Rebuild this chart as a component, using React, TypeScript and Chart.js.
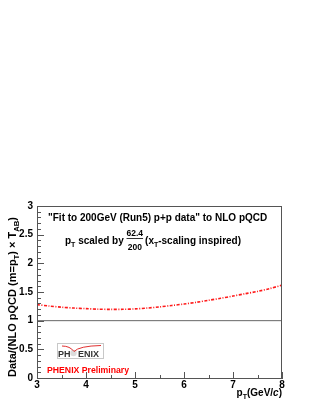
import React, { useEffect, useRef } from "react";
import { Chart, registerables } from "chart.js";

Chart.register(...registerables);

// ---- data ----
const ptValues: number[] = [3.0, 3.25, 3.5, 3.75, 4.0, 4.25, 4.5, 4.75, 5.0, 5.25, 5.5, 5.75, 6.0, 6.25, 6.5, 6.75, 7.0, 7.25, 7.5, 7.75, 8.0];
const ratioValues: number[] = [1.28, 1.255, 1.235, 1.22, 1.21, 1.2, 1.197, 1.198, 1.205, 1.22, 1.24, 1.265, 1.29, 1.32, 1.355, 1.39, 1.43, 1.47, 1.51, 1.56, 1.62];
const refLineX: number[] = [3, 8];
const refLineY: number[] = [1, 1];
const xRange: number[] = [3, 8];
const yRange: number[] = [0, 3];

const FONT = "'Liberation Sans', Arial, Helvetica, sans-serif";

type Seg = { t: string; sub?: boolean; italic?: boolean };

function segFont(size: number, s: Seg) {
  const sz = s.sub ? size * 0.7 : size;
  return `${s.italic ? "italic " : ""}bold ${sz}px ${FONT}`;
}

function richWidth(ctx: CanvasRenderingContext2D, segs: Seg[], size: number) {
  let w = 0;
  for (const s of segs) {
    ctx.font = segFont(size, s);
    w += ctx.measureText(s.t).width;
  }
  return w;
}

function drawRich(ctx: CanvasRenderingContext2D, segs: Seg[], x: number, y: number, size: number, align: "left" | "right" | "center", color: string) {
  const w = richWidth(ctx, segs, size);
  let cx = align === "left" ? x : align === "right" ? x - w : x - w / 2;
  ctx.textAlign = "left";
  ctx.textBaseline = "alphabetic";
  ctx.fillStyle = color;
  for (const s of segs) {
    ctx.font = segFont(size, s);
    ctx.fillText(s.t, cx, s.sub ? y + size * 0.3 : y);
    cx += ctx.measureText(s.t).width;
  }
  return w;
}

const decorPlugin = {
  id: "decor",
  afterDraw(chart: any) {
    const ctx: CanvasRenderingContext2D = chart.ctx;
    const { left, right, top, bottom } = chart.chartArea;
    const xs = chart.scales.x;
    const ys = chart.scales.y;
    ctx.save();
    // frame
    ctx.strokeStyle = "#555";
    ctx.lineWidth = 1;
    ctx.strokeRect(left + 0.5, top + 0.5, right - left - 1, bottom - top);
    // y ticks
    ctx.strokeStyle = "#555";
    for (let i = 0; i <= 30; i++) {
      const v = i / 10;
      const p = Math.round(ys.getPixelForValue(v)) + 0.5;
      const len = i % 5 === 0 ? 7 : 4;
      ctx.beginPath();
      ctx.moveTo(left, p);
      ctx.lineTo(left + len, p);
      ctx.stroke();
    }
    // x ticks
    for (let i = 0; i <= 10; i++) {
      const v = 3 + i * 0.5;
      const p = Math.round(xs.getPixelForValue(v)) + 0.5;
      const len = i % 2 === 0 ? 6 : 3;
      ctx.beginPath();
      ctx.moveTo(p, bottom);
      ctx.lineTo(p, bottom - len);
      ctx.stroke();
    }
    // in-plot texts
    ctx.fillStyle = "#000";
    ctx.font = `bold 10px ${FONT}`;
    ctx.textAlign = "left";
    ctx.textBaseline = "alphabetic";
    ctx.fillText('"Fit to 200GeV (Run5) p+p data" to NLO pQCD', 48, 221);

    // line 2 with fraction
    const size = 10;
    let x = 65;
    const base = 244;
    x += drawRich(ctx, [{ t: "p" }, { t: "T", sub: true }, { t: " scaled by " }], x, base, size, "left", "#000");
    ctx.font = `bold 8.5px ${FONT}`;
    const numW = ctx.measureText("62.4").width;
    const denW = ctx.measureText("200").width;
    const fw = Math.max(numW, denW);
    ctx.textAlign = "center";
    ctx.fillText("62.4", x + fw / 2, base - 8);
    ctx.fillText("200", x + fw / 2, base + 6);
    ctx.beginPath();
    ctx.lineWidth = 0.8;
    ctx.strokeStyle = "#000";
    ctx.moveTo(x, base - 5.5);
    ctx.lineTo(x + fw, base - 5.5);
    ctx.stroke();
    x += fw + 2;
    drawRich(ctx, [{ t: "(x" }, { t: "T", sub: true }, { t: "-scaling inspired)" }], x, base, size, "left", "#000");

    // y-axis title
    ctx.save();
    ctx.translate(15.5, 217);
    ctx.rotate(-Math.PI / 2);
    drawRich(ctx, [{ t: "Data/(NLO pQCD (m=p" }, { t: "T", sub: true }, { t: ") \u00d7 T" }, { t: "AB", sub: true }, { t: ")" }], 0, 0, 11, "right", "#000");
    ctx.restore();

    // x-axis title
    drawRich(ctx, [{ t: "p" }, { t: "T", sub: true }, { t: "(GeV/" }, { t: "c", italic: true }, { t: ")" }], 282, 396, 10, "right", "#000");

    // PHENIX logo
    ctx.strokeStyle = "#c8c8c8";
    ctx.lineWidth = 1;
    ctx.strokeRect(57.5, 343.5, 46, 15);
    ctx.fillStyle = "#dcdcdc";
    ctx.beginPath();
    ctx.arc(73.5, 353, 3.2, 0, Math.PI * 2);
    ctx.fill();
    ctx.fillStyle = "#333";
    ctx.font = `bold 9px ${FONT}`;
    ctx.textAlign = "left";
    ctx.fillText("PH", 58, 357);
    ctx.fillText("ENIX", 78, 357);
    ctx.strokeStyle = "#e03030";
    ctx.lineWidth = 1;
    ctx.beginPath();
    ctx.moveTo(62, 346);
    ctx.quadraticCurveTo(70, 346, 74, 351.5);
    ctx.quadraticCurveTo(79, 346, 101, 345.5);
    ctx.stroke();

    ctx.fillStyle = "#ff0000";
    ctx.font = `bold 8.7px ${FONT}`;
    ctx.fillText("PHENIX Preliminary", 47, 372.5);
    ctx.restore();
  },
};

export default function App() {
  const ref = useRef<HTMLCanvasElement | null>(null);
  useEffect(() => {
    if (!ref.current) return;
    const curve = ptValues.map((x, i) => ({ x, y: ratioValues[i] }));
    const refLine = refLineX.map((x, i) => ({ x, y: refLineY[i] }));
    const chart = new Chart(ref.current, {
      type: "line",
      data: {
        datasets: [
          {
            data: refLine,
            borderColor: "#666",
            borderWidth: 1,
            pointRadius: 0,
          },
          {
            data: curve,
            borderColor: "rgba(255,0,0,0.9)",
            borderWidth: 1.6,
            borderDash: [3, 1.5, 1, 1.5],
            pointRadius: 0,
            tension: 0.3,
          },
        ],
      },
      options: {
        animation: false,
        responsive: false,
        maintainAspectRatio: false,
        layout: { padding: { top: 206, right: 29, left: 0, bottom: 0 } },
        plugins: { legend: { display: false }, tooltip: { enabled: false }, title: { display: false } },
        scales: {
          x: {
            type: "linear",
            min: xRange[0],
            max: xRange[1],
            afterFit: (s: any) => {
              s.height = 24;
            },
            grid: { display: false, drawTicks: false },
            border: { display: true, color: "#555", width: 1 },
            ticks: {
              stepSize: 1,
              padding: 1,
              color: "#000",
              font: { family: FONT, size: 10, weight: "bold" },
              maxRotation: 0,
            },
          },
          y: {
            type: "linear",
            min: yRange[0],
            max: yRange[1],
            afterFit: (s: any) => {
              s.width = 37;
            },
            grid: { display: false, drawTicks: false },
            border: { display: true, color: "#555", width: 1 },
            ticks: {
              stepSize: 0.5,
              padding: 4,
              color: "#000",
              font: { family: FONT, size: 10, weight: "bold" },
              callback: (v: any) => String(Number(v)),
            },
          },
        },
      },
      plugins: [decorPlugin],
    });
    return () => chart.destroy();
  }, []);
  return (
    <div style={{ position: "absolute", left: 0, top: 0, width: 311, height: 402, background: "#fff" }}>
      <canvas ref={ref} width={311} height={402} style={{ display: "block", width: 311, height: 402 }} />
    </div>
  );
}
